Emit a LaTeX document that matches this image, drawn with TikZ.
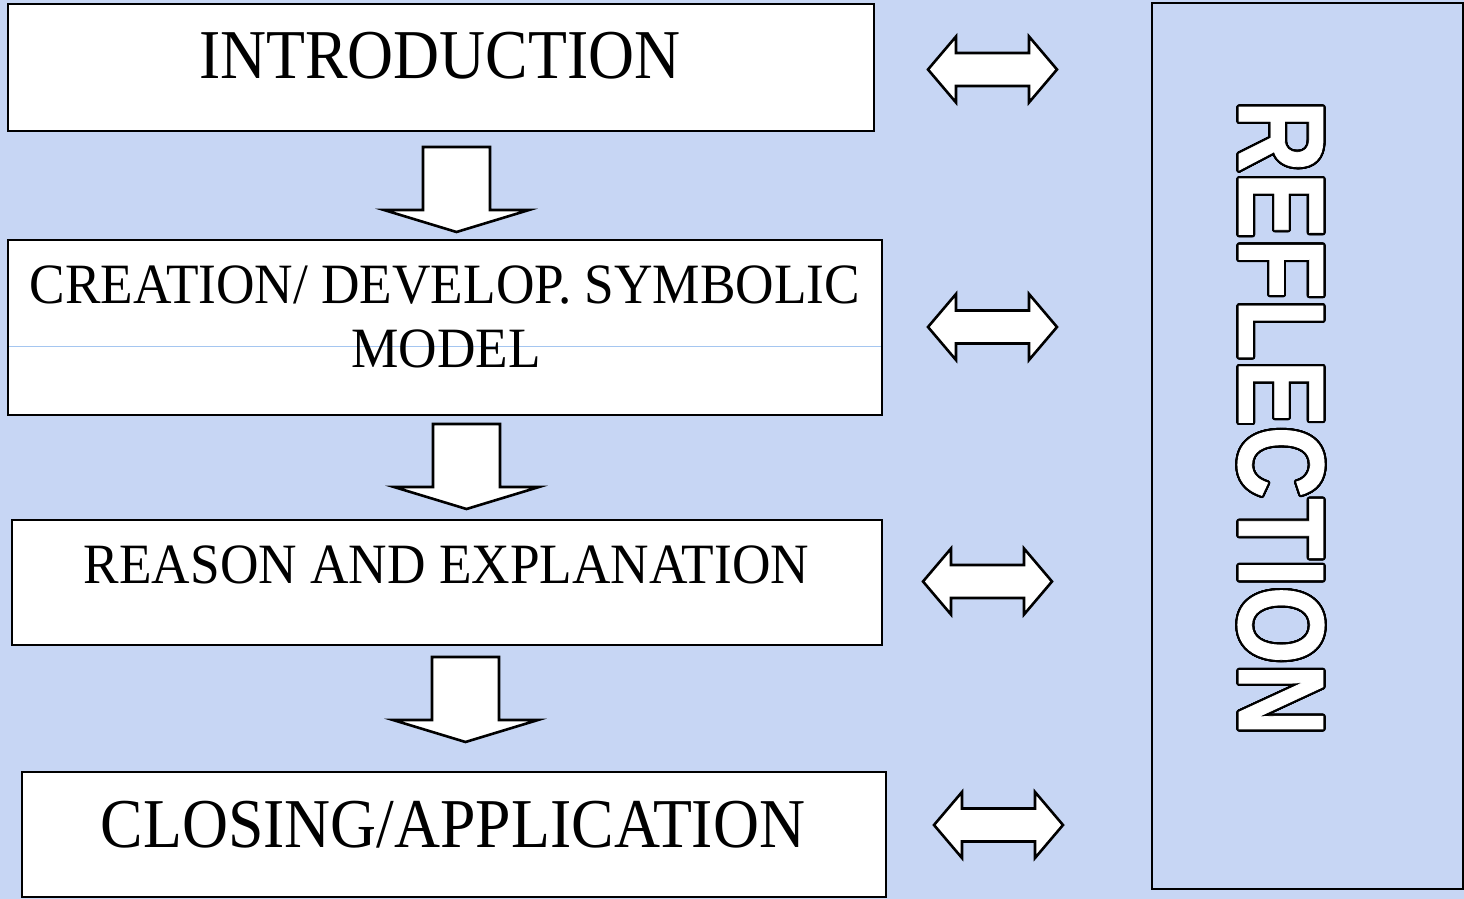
\documentclass[tikz,border=0pt]{standalone}
\usepackage{fontspec}
\usepackage{contour}
\newfontfamily\boxfont[FakeStretch=0.91]{Liberation Serif}
\newfontfamily\smallfont[FakeStretch=0.935]{Liberation Serif}
\newfontfamily\reflfont[FakeStretch=0.815,FakeBold=0.6]{Liberation Sans}
\contourlength{1.1pt}
\contournumber{32}
\definecolor{bgblue}{RGB}{199,214,244}
\definecolor{seam}{RGB}{165,198,240}
\tikzset{
  box/.style={draw=black, line width=1.3pt, fill=white, rectangle, inner sep=0pt},
  smalltext/.style={font=\smallfont\fontsize{28.5}{32}\selectfont, anchor=base, inner sep=0pt},
  bigtext/.style={font=\boxfont\fontsize{35}{40}\selectfont, anchor=base, inner sep=0pt},
  blockarrow/.style={draw=black, line width=1.3pt, fill=white, line join=miter},
  pics/downarrow/.style={code={
    \path[blockarrow] (-33.5,0) -- (33.5,0) -- (33.5,63) -- (72.5,63) -- (0,85)
      -- (-72.5,63) -- (-33.5,63) -- cycle;}},
  pics/dblarrow/.style={code={
    \path[blockarrow] (-64.5,0) -- (-36.5,-33) -- (-36.5,-16.5) -- (36.5,-16.5)
      -- (36.5,-33) -- (64.5,0) -- (36.5,33) -- (36.5,16.5) -- (-36.5,16.5)
      -- (-36.5,33) -- cycle;}},
}
\begin{document}
\begin{tikzpicture}[x=0.5pt, y=-0.5pt]
\useasboundingbox (0,0) rectangle (1464,899);
\fill[bgblue] (0,0) rectangle (1464,899);

% boxes
\node[box, minimum width=433pt, minimum height=63.5pt] (intro) at (441,67.5) {};
\node[box, minimum width=437pt, minimum height=87.5pt] (creation) at (445,327.5) {};
\node[box, minimum width=435pt, minimum height=62.5pt] (reason) at (447,582.5) {};
\node[box, minimum width=432pt, minimum height=62.5pt] (closing) at (454,834.5) {};
\node[draw=black, line width=1.3pt, rectangle, inner sep=0pt,
      minimum width=155.5pt, minimum height=443pt] (reflbox) at (1307.5,446) {};

\draw[seam, line width=0.4pt] (9,346) -- (881,346);

% texts
\node[bigtext] (introtext) at (440,79) {INTRODUCTION};
\node[smalltext] (creatext1) at (445,303) {CREATION/ DEVELOP. SYMBOLIC};
\node[smalltext] (creatext2) at (446,367) {MODEL};
\node[smalltext] (reasontext) at (446.5,583) {REASON AND EXPLANATION};
\node[bigtext] (closingtext) at (453,847) {CLOSING/APPLICATION};

\node[rotate=-90, anchor=base, inner sep=0pt, text=white,
      font=\reflfont\bfseries\fontsize{61}{61}\selectfont] (refltext) at (1239,418)
      {\contour{black}{REFLECTION}};

% down block arrows
\pic at (456.5,147) {downarrow};
\pic at (466.5,424) {downarrow};
\pic at (465.5,657) {downarrow};

% double arrows
\pic at (992.5,69.5) {dblarrow};
\pic at (992.5,327) {dblarrow};
\pic at (987.5,581.5) {dblarrow};
\pic at (998.5,825) {dblarrow};
\end{tikzpicture}
\end{document}
